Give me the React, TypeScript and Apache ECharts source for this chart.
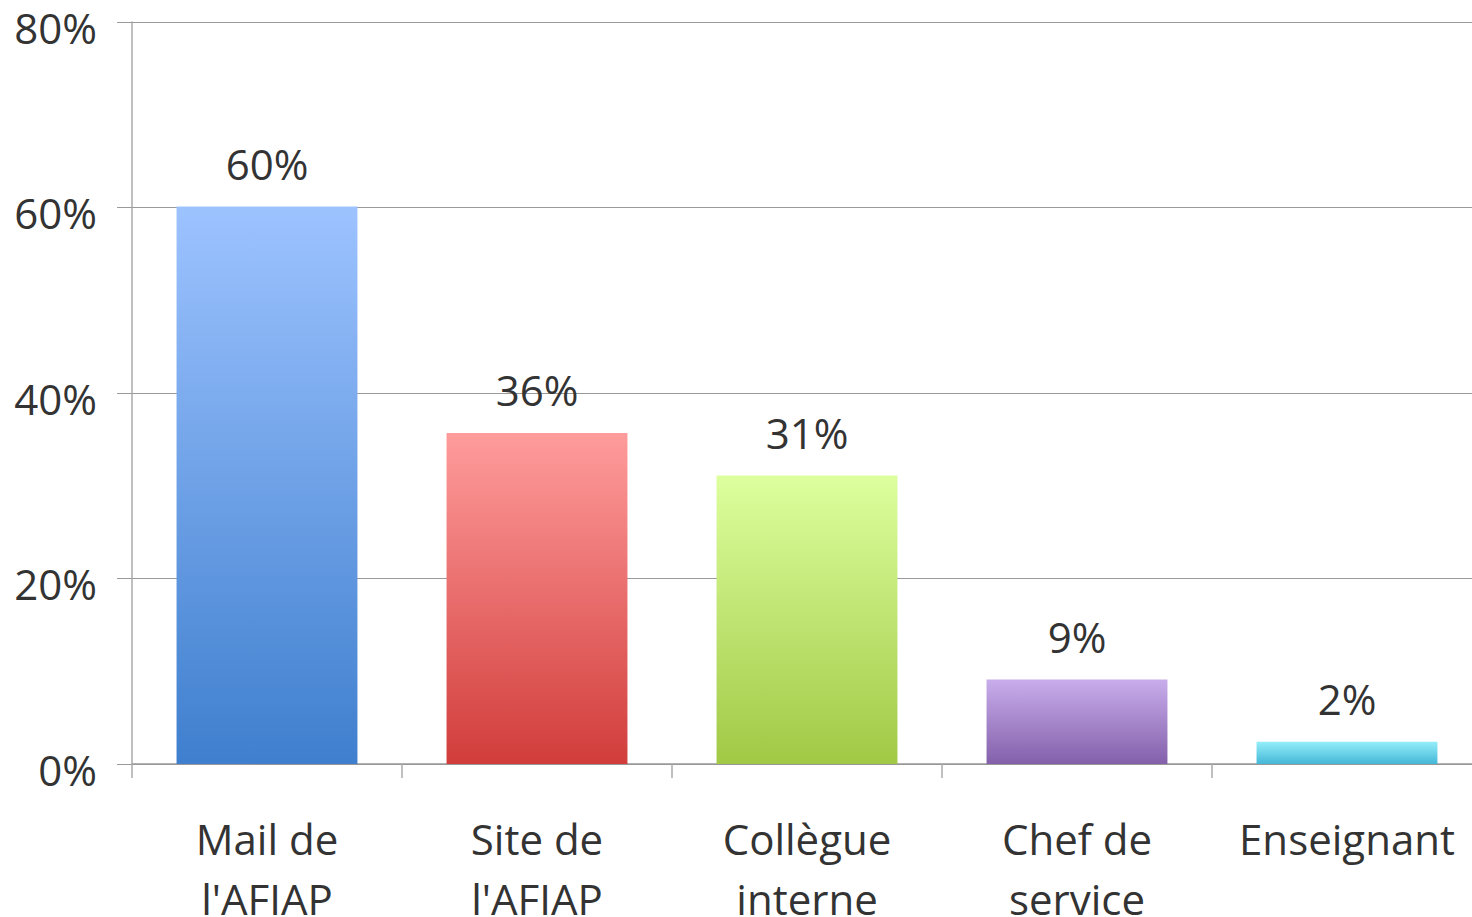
import React, { useEffect, useRef } from "react";
import * as echarts from "echarts";

const categories = ["Mail de\nl'AFIAP", "Site de\nl'AFIAP", "Collègue\ninterne", "Chef de\nservice", "Enseignant"];
const values = [60.1, 35.7, 31.1, 9.1, 2.4];
const topColors = ["#9DC3FF", "#FF9C9C", "#DDFF9E", "#C8ADEB", "#95EEFA"];
const bottomColors = ["#3F7FCE", "#D13D3B", "#A1C945", "#8460AB", "#44B7D7"];
const yTicks = [0, 20, 40, 60, 80];

export default function App() {
  const ref = useRef<HTMLDivElement>(null);
  useEffect(() => {
    document.body.style.margin = "0";
    const chart = echarts.init(ref.current!, undefined, { renderer: "svg" });
    const font = "'Open Sans', 'Noto Sans', sans-serif";
    chart.setOption({
      animation: false,
      grid: { left: 132, right: 8, top: 22, bottom: 153, outerBoundsMode: "none", containLabel: false },
      xAxis: {
        type: "category",
        data: categories,
        axisLine: { lineStyle: { color: "#999", width: 1.5 } },
        axisTick: { show: true, length: 14, lineStyle: { color: "#aaa", width: 1.5 } },
        axisLabel: {
          color: "#333",
          fontFamily: font,
          fontSize: 42,
          lineHeight: 60,
          margin: 44,
          interval: 0,
        },
      },
      yAxis: {
        type: "value",
        min: yTicks[0],
        max: yTicks[yTicks.length - 1],
        interval: 20,
        axisLine: { show: true, lineStyle: { color: "#aaa", width: 1.5 } },
        axisTick: { show: true, length: 15, lineStyle: { color: "#999" } },
        splitLine: { lineStyle: { color: "#999", width: 1 } },
        axisLabel: {
          color: "#333",
          fontFamily: font,
          fontSize: 42,
          margin: 35,
          formatter: (v: number) => "{a|" + v + "%}",
          rich: {
            a: { fontFamily: font, fontSize: 42, color: "#333", padding: [10, 0, 0, 0] },
          },
        },
      },
      series: [
        {
          type: "bar",
          barCategoryGap: "33%",
          data: values.map((v, i) => ({
            value: v,
            itemStyle: {
              color: new echarts.graphic.LinearGradient(0, 0, 0, 1, [
                { offset: 0, color: topColors[i] },
                { offset: 1, color: bottomColors[i] },
              ]),
            },
          })),
          label: {
            show: true,
            position: "top",
            distance: 22,
            color: "#333",
            fontFamily: font,
            fontSize: 42,
            formatter: (p: any) => Math.round(p.value) + "%",
          },
        },
      ],
    });
    return () => chart.dispose();
  }, []);
  return (
    <div style={{ position: "fixed", left: 0, top: 0, width: 1472, height: 917, overflow: "hidden", background: "#fff" }}>
      <div ref={ref} style={{ width: 1490, height: 917 }} />
    </div>
  );
}
